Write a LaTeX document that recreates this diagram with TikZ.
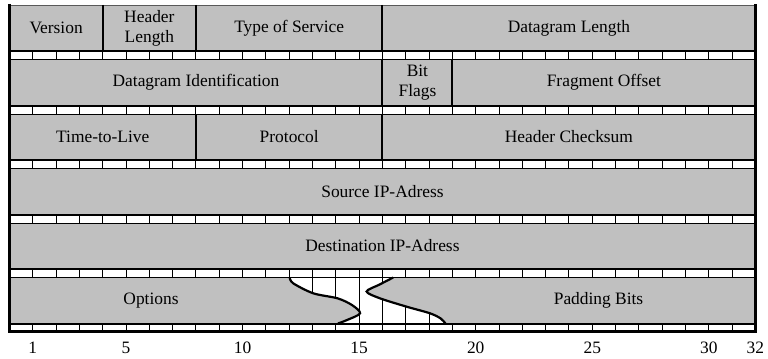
\documentclass[tikz,border=0pt]{standalone}
\usepackage{fontspec}
\setmainfont{Liberation Serif}
\usetikzlibrary{positioning}

\definecolor{fieldgray}{RGB}{192,192,192}
\newcommand{\bitw}{11.655pt}

\begin{document}
\begin{tikzpicture}[
    x=\bitw, y=-0.5pt,
    field/.style={rectangle, fill=fieldgray, draw=black!65, line width=0.3pt, inner sep=0pt, outer sep=0pt, minimum height=23pt, align=center, font=\fontsize{8.7}{10}\selectfont},
    fieldtext/.style={inner sep=0pt, font=\fontsize{8.7}{10}\selectfont},
    sep/.style={line width=1pt},
    tick/.style={line width=0.5pt},
    frame/.style={line width=1.5pt, line join=miter},
    wave/.style={line width=1.1pt},
    node distance=0pt
]
\useasboundingbox (-0.4075,0) rectangle (32.539,358);

% first word
\node[field, minimum width=4*\bitw] (version) at (2,28) {Version};
\node[field, minimum width=4*\bitw, right=of version] (hdrlen) {Header\\Length};
\node[field, minimum width=8*\bitw, right=of hdrlen] (tos) {Type of Service};
\node[field, minimum width=16*\bitw, right=of tos] (dglen) {Datagram Length};

% second word
\node[field, minimum width=16*\bitw] (dgid) at (8,82.5) {Datagram Identification};
\node[field, minimum width=3*\bitw, right=of dgid] (flags) {Bit\\Flags};
\node[field, minimum width=13*\bitw, right=of flags] (fragoff) {Fragment Offset};

% third word
\node[field, minimum width=8*\bitw] (ttl) at (4,137) {Time-to-Live};
\node[field, minimum width=8*\bitw, right=of ttl] (proto) {Protocol};
\node[field, minimum width=16*\bitw, right=of proto] (checksum) {Header Checksum};

% addresses
\node[field, minimum width=32*\bitw] (srcip) at (16,191.5) {Source IP-Adress};
\node[field, minimum width=32*\bitw] (dstip) at (16,246) {Destination IP-Adress};

% options word, broken in the middle
\foreach \k in {12,...,19}
  \draw[tick] (\k,277.5) -- (\k,323.5);
\fill[fieldgray] (0,277.5) -- plot[smooth] coordinates {(12.02,277.5) (12.17,283.3) (13.03,293.3) (14.07,298.3) (14.69,305) (15.04,313.3) (14.48,320) (14.09,323.5)} -- (0,323.5) -- cycle;
\fill[fieldgray] (32,277.5) -- plot[smooth] coordinates {(16.46,277.5) (15.88,284.5) (15.32,291.5) (15.89,298.3) (17.04,306.7) (18.04,313.3) (18.5,318.5) (18.7,323.5)} -- (32,323.5) -- cycle;
\draw[wave] plot[smooth] coordinates {(12.02,277.5) (12.17,283.3) (13.03,293.3) (14.07,298.3) (14.69,305) (15.04,313.3) (14.48,320) (14.09,323.5)};
\draw[wave] plot[smooth] coordinates {(16.46,277.5) (15.88,284.5) (15.32,291.5) (15.89,298.3) (17.04,306.7) (18.04,313.3) (18.5,318.5) (18.7,323.5)};
\node[fieldtext] (options) at (6.07,300.5) {Options};
\node[fieldtext] (padding) at (25.27,300.5) {Padding Bits};

% bit ruler under each word
\foreach \yb in {51,105.5,160,214.5,269,323.5} {
  \foreach \k in {1,...,31}
    \draw[tick] (\k,\yb) -- (\k,\yb+8.5);
  \draw[sep] (0,\yb) -- (32,\yb);
  \draw[tick] (0,\yb+8.5) -- (32,\yb+8.5);
}

% field borders
\foreach \f in {version,hdrlen,tos,dgid,flags,ttl,proto}
  \draw[sep] (\f.north east) -- (\f.south east);

% outer frame
\draw[frame] (0,4) -- (0,331.5) -- (32,331.5) -- (32,4);

% bit numbers
\foreach \b in {1,5,10,15,20,25,30,32}
  \node[fieldtext] (bit\b) at (\b,348) {\b};

\end{tikzpicture}
\end{document}
